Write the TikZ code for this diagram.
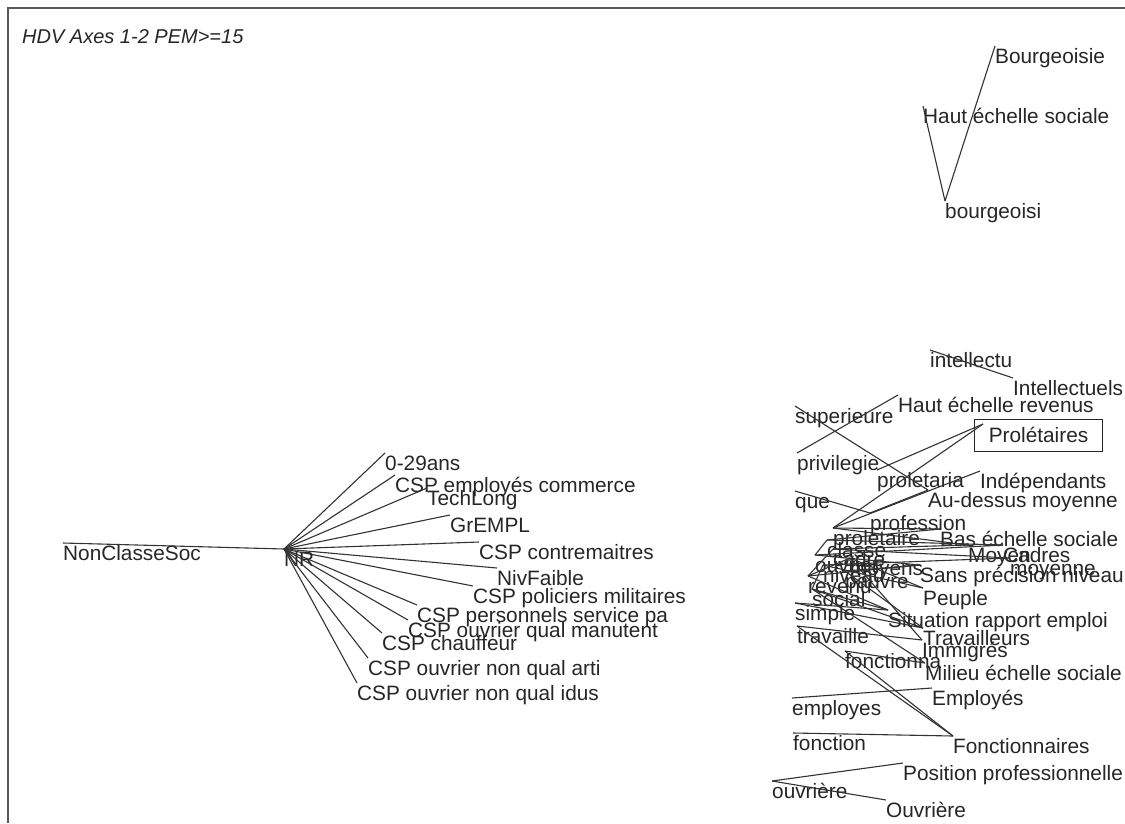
\documentclass[tikz,border=0pt]{standalone}
\usepackage{fontspec}
\setmainfont{Liberation Sans}
\begin{document}
\begin{tikzpicture}[x=1pt,y=-1pt,
  lab/.style={anchor=north west,inner sep=0pt,text height=17pt,text depth=4pt,
    text=black!85,font=\fontsize{20.8}{22}\selectfont},
  link/.style={draw=black!80,line width=1.1pt},
  frame/.style={draw=black!65,line width=1.6pt}]
\useasboundingbox (0,0) rectangle (1125,823);
\fill[white] (0,0) rectangle (1125,823);
\draw[frame] (8,823) -- (8,8) -- (1125,8);
\node[lab,font=\fontsize{20}{22}\selectfont\itshape] (title) at (22,26) {HDV Axes 1-2 PEM>=15};

% ---- left fan around NR ----
\node[lab] (nr) at (284,549) {NR};
\node[lab] (noncl) at (63,543) {NonClasseSoc};
\node[lab] (age) at (385,453) {0-29ans};
\node[lab] (commerce) at (395,475) {CSP employés commerce};
\node[lab] (techlong) at (427,488) {TechLong};
\node[lab] (grempl) at (450,515) {GrEMPL};
\node[lab] (contrem) at (479,542) {CSP contremaitres};
\node[lab] (nivf) at (497,568) {NivFaible};
\node[lab] (polic) at (473,586) {CSP policiers militaires};
\node[lab] (perso) at (417,605) {CSP personnels service pa};
\node[lab] (manut) at (408,620) {CSP ouvrier qual manutent};
\node[lab] (chauf) at (382,633) {CSP chauffeur};
\node[lab] (arti) at (368,658) {CSP ouvrier non qual arti};
\node[lab] (idus) at (357,683) {CSP ouvrier non qual idus};
\foreach \t in {noncl,age,commerce,techlong,grempl,contrem,nivf,polic,perso,manut,chauf,arti,idus}
  \draw[link] (nr.north west) -- (\t.north west);

% ---- upper right group ----
\node[lab] (bourgA) at (995,46) {Bourgeoisie};
\node[lab] (hautsoc) at (923,106) {Haut échelle sociale};
\node[lab] (bourgB) at (945,201) {bourgeoisi};
\draw[link] (bourgA.north west) -- (bourgB.north west);
\draw[link] (hautsoc.north west) -- (bourgB.north west);

% ---- right cluster ----
\node[lab] (intelB) at (930,350) {intellectu};
\node[lab] (intelA) at (1013,378) {Intellectuels};
\node[lab] (hautrev) at (898,395) {Haut échelle revenus};
\node[lab] (superi) at (795,406) {superieure};
\node[lab,draw=black!85,line width=1.1pt,minimum width=128pt,minimum height=32pt,inner sep=0pt] (prolet) at (974,419) {Prolétaires};
\node[lab] (privil) at (797,453) {privilegie};
\node[lab] (prolta) at (877,470) {proletaria};
\node[lab] (indep) at (980,471) {Indépendants};
\node[lab] (audess) at (928,490) {Au-dessus moyenne};
\node[lab] (que) at (795,491) {que};
\node[lab] (profes) at (870,513) {profession};
\node[lab] (proltr) at (833,528) {proletaire};
\node[lab] (bassoc) at (940,529) {Bas échelle sociale};
\node[lab] (classe) at (827,540) {classe};
\node[lab] (moyen) at (968,545) {Moyen};
\node[lab] (cadres) at (1003,545) {Cadres};
\node[lab] (cadre) at (833,549) {cadre};
\node[lab] (ouvrier) at (815,555) {ouvrier};
\node[lab] (moyens) at (850,558) {moyens};
\node[lab] (moyenne) at (1010,558) {moyenne};
\node[lab] (sanspr) at (920,565) {Sans précision niveau};
\node[lab] (niveau) at (823,565) {niveau};
\node[lab] (pauvre) at (845,571) {pauvre};
\node[lab] (revenu) at (808,576) {revenu};
\node[lab] (social) at (812,589) {social};
\node[lab] (peuple) at (923,588) {Peuple};
\node[lab] (simple) at (795,603) {simple};
\node[lab] (situat) at (888,610) {Situation rapport emploi};
\node[lab] (travs) at (923,628) {Travailleurs};
\node[lab] (travaille) at (797,626) {travaille};
\node[lab] (immig) at (922,640) {Immigrés};
\node[lab] (fonctna) at (845,651) {fonctionna};
\node[lab] (milieu) at (925,663) {Milieu échelle sociale};
\node[lab] (emplE) at (932,688) {Employés};
\node[lab] (emple) at (792,698) {employes};
\node[lab] (fonction) at (793,733) {fonction};
\node[lab] (fonctE) at (953,736) {Fonctionnaires};
\node[lab] (posit) at (903,763) {Position professionnelle};
\node[lab] (ouvr) at (772,781) {ouvrière};
\node[lab] (ouvrE) at (886,800) {Ouvrière};

\draw[link] (intelB.north west) -- (intelA.north west);
\draw[link] (hautrev.north west) -- (privil.north west);
\draw[link] (superi.north west) -- (audess.north west);
\draw[link] (prolta.north west) -- ([shift={(9,5)}]prolet.north west);
\draw[link] (proltr.north west) -- ([shift={(9,5)}]prolet.north west);
\draw[link] (que.north west) -- (profes.north west);
\draw[link] (profes.north west) -- (audess.north west);
\draw[link] (proltr.north west) -- (indep.north west);
% dense core of the cluster
\draw[link] (proltr.north west) -- (bassoc.north west);
\draw[link] (classe.north west) -- (bassoc.north west);
\draw[link] (proltr.north west) -- (moyen.north west);
\draw[link] (cadre.north west) -- (moyen.north west);
\draw[link] (classe.north west) -- (cadres.north west);
\draw[link] (ouvrier.north west) -- (cadres.north west);
\draw[link] (niveau.north west) -- (moyenne.north west);
\draw[link] (cadre.north west) -- (moyenne.north west);
\draw[link] (revenu.north west) -- (sanspr.north west);
\draw[link] (ouvrier.north west) -- (sanspr.north west);
\draw[link] (pauvre.north west) -- (sanspr.north west);
\draw[link] (moyens.north west) -- (peuple.north west);
\draw[link] (niveau.north west) -- (peuple.north west);
\draw[link] (classe.north west) -- (ouvrier.north west);
\draw[link] (cadre.north west) -- (revenu.north west);
\draw[link] (niveau.north west) -- (social.north west);
\draw[link] (moyens.north west) -- (revenu.north west);
\draw[link] (simple.north west) -- (situat.north west);
\draw[link] (social.north west) -- (situat.north west);
\draw[link] (revenu.north west) -- (situat.north west);
\draw[link] (social.north west) -- (travs.north west);
\draw[link] (pauvre.north west) -- (travs.north west);
\draw[link] (travaille.north west) -- (immig.north west);
\draw[link] (moyens.north west) -- (immig.north west);
\draw[link] (simple.north west) -- (travs.north west);
\draw[link] (social.north west) -- (milieu.north west);
\draw[link] (fonctna.north west) -- (milieu.north west);
\draw[link] (travaille.north west) -- (fonctE.north west);
\draw[link] (fonctna.north west) -- (fonctE.north west);
\draw[link] (emple.north west) -- (emplE.north west);
\draw[link] (fonction.north west) -- (fonctE.north west);
\draw[link] (ouvr.north west) -- (posit.north west);
\draw[link] (ouvr.north west) -- (ouvrE.north west);
\end{tikzpicture}
\end{document}
